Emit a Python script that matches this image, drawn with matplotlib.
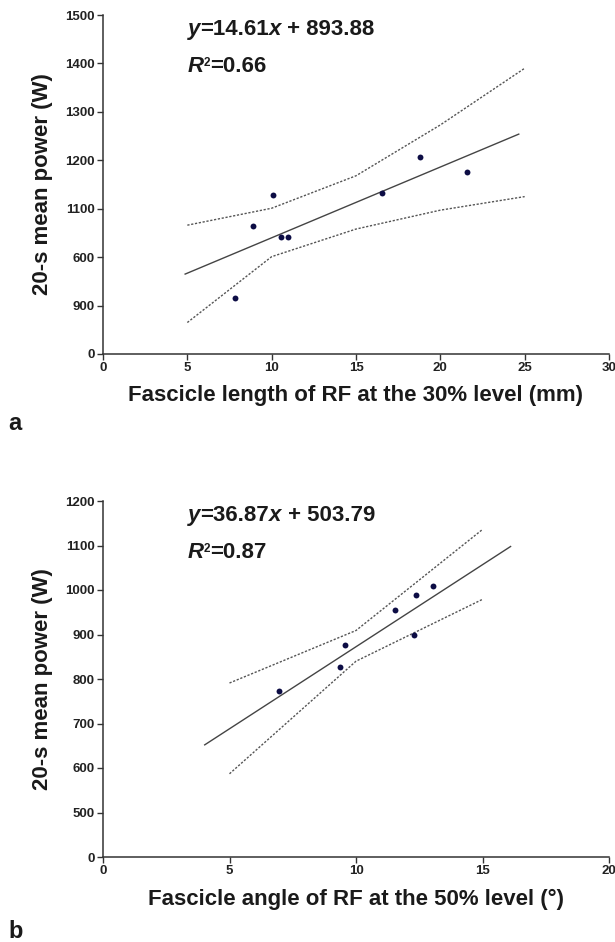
import matplotlib
matplotlib.use("Agg")
import matplotlib.pyplot as plt
import numpy as np

plt.rcParams['font.family'] = ['Liberation Sans', 'DejaVu Sans']
plt.rcParams['font.weight'] = 'bold'

# ---- Panel a data ----
a_x = [7.82, 8.87, 10.1, 10.53, 10.99, 16.52, 18.8, 21.6]
a_y = [916, 1064, 1128, 1041, 1042, 1133, 1206, 1175]
a_slope, a_int = 14.61, 893.88
a_fit_x = [4.87, 24.65]
a_band_x = [5, 10, 15, 20, 25]
a_upper = [1066, 1101, 1168, 1273, 1390]
a_lower = [865, 1001, 1058, 1097, 1125]
a_yticks = [800, 900, 1000, 1100, 1200, 1300, 1400, 1500]
a_yticklabels = ["0", "900", "600", "1100", "1200", "1300", "1400", "1500"]
a_xticks = [0, 5, 10, 15, 20, 25, 30]

# ---- Panel b data ----
b_x = [6.94, 9.35, 9.56, 11.56, 12.37, 12.29, 13.04]
b_y = [772, 827, 876, 954, 989, 900, 1008]
b_slope, b_int = 36.87, 503.79
b_fit_x = [4.02, 16.11]
b_band_x = [5, 10, 15]
b_upper = [791, 909, 1136]
b_lower = [587, 840, 979]
b_yticks = [400, 500, 600, 700, 800, 900, 1000, 1100, 1200]
b_yticklabels = ["0", "500", "600", "700", "800", "900", "1000", "1100", "1200"]
b_xticks = [0, 5, 10, 15, 20]

TXT = '#1a1a1a'
W, H = 615, 942
fig = plt.figure(figsize=(W/100, H/100), dpi=100)

def fax(l, t, r, b):
    return fig.add_axes([l/W, 1-b/H, (r-l)/W, (b-t)/H])

ax1 = fax(103, 15, 609, 354)
ax2 = fax(103, 501, 609, 857)

def style(ax, xticks, xlim, yticks, ylabels, ylim):
    ax.set_xlim(*xlim)
    ax.set_ylim(*ylim)
    ax.set_xticks(xticks)
    ax.set_xticklabels([str(t) for t in xticks])
    ax.set_yticks(yticks)
    ax.set_yticklabels(ylabels)
    for s in ['top', 'right']:
        ax.spines[s].set_visible(False)
    for s in ['left', 'bottom']:
        ax.spines[s].set_linewidth(1.1)
        ax.spines[s].set_color('#333333')
        ax.spines[s].set_clip_on(False)
    ax.tick_params(direction='out', length=4.5, width=1, color='#333333',
                   labelsize=9.5, pad=1.5, labelcolor='#222222')
    for lab in ax.get_xticklabels() + ax.get_yticklabels():
        lab.set_fontweight('bold')
    ax.set_ylabel("20-s mean power (W)", fontsize=16, fontweight='bold', color=TXT)
    ax.yaxis.set_label_coords(-0.099, 0.5)

def draw(ax, xs, ys, slope, icpt, fitx, bx, bu, bl):
    fx = np.array(fitx)
    ax.plot(fx, slope*fx + icpt, color='#444444', lw=1.0)
    ax.plot(bx, bu, color='#555555', lw=1.0, ls=(0, (1.6, 1.2)))
    ax.plot(bx, bl, color='#555555', lw=1.0, ls=(0, (1.6, 1.2)))
    ax.scatter(xs, ys, s=18, color='#0d0d45', zorder=5, linewidths=0)

def equation(ax, x, y1, y2, slope_txt, icpt_txt, r2_txt):
    fs = 16
    t = ax.text(x, y1, "y", fontsize=fs, fontweight='bold', style='italic',
                va='baseline', ha='left', color=TXT)
    t2 = ax.annotate("=" + slope_txt, xy=(1, 0), xycoords=t, va='bottom', ha='left',
                     fontsize=fs, fontweight='bold', color=TXT)
    t3 = ax.annotate("x", xy=(1, 0), xycoords=t2, va='bottom', ha='left',
                     fontsize=fs, fontweight='bold', style='italic', color=TXT)
    ax.annotate(" + " + icpt_txt, xy=(1, 0), xycoords=t3, va='bottom', ha='left',
                fontsize=fs, fontweight='bold', color=TXT)
    r = ax.text(x, y2, "R", fontsize=fs, fontweight='bold', style='italic',
                va='baseline', ha='left', color=TXT)
    ax.annotate("2", xy=(1, 0.93), xycoords=r, xytext=(-0.5, 0), textcoords='offset points',
                va='top', ha='left', fontsize=8.5, fontweight='bold', color=TXT)
    ax.annotate("=" + r2_txt, xy=(1, 0), xycoords=r, xytext=(4.3, 0),
                textcoords='offset points', va='bottom', ha='left',
                fontsize=fs, fontweight='bold', color=TXT)

style(ax1, a_xticks, (0, 30), a_yticks, a_yticklabels, (800, 1500))
draw(ax1, a_x, a_y, a_slope, a_int, a_fit_x, a_band_x, a_upper, a_lower)
ax1.set_xlabel("Fascicle length of RF at the 30% level (mm)", fontsize=16,
               fontweight='bold', color=TXT, va='top')
ax1.xaxis.set_label_coords(0.5, -0.0914)
equation(ax1, 5.04, 1459, 1383, "14.61", "893.88", "0.66")

style(ax2, b_xticks, (0, 20), b_yticks, b_yticklabels, (400, 1200))
draw(ax2, b_x, b_y, b_slope, b_int, b_fit_x, b_band_x, b_upper, b_lower)
ax2.set_xlabel("Fascicle angle of RF at the 50% level (°)", fontsize=16,
               fontweight='bold', color=TXT, va='top')
ax2.xaxis.set_label_coords(0.5, -0.0899)
equation(ax2, 3.36, 1156, 1073, "36.87", "503.79", "0.87")

fig.text(8/W, 1-424/H, "a", fontsize=17, fontweight='bold', va='center', ha='left', color=TXT)
fig.text(8/W, 1-932/H, "b", fontsize=17, fontweight='bold', va='center', ha='left', color=TXT)

fig.savefig("out.png", dpi=100, facecolor='white')
